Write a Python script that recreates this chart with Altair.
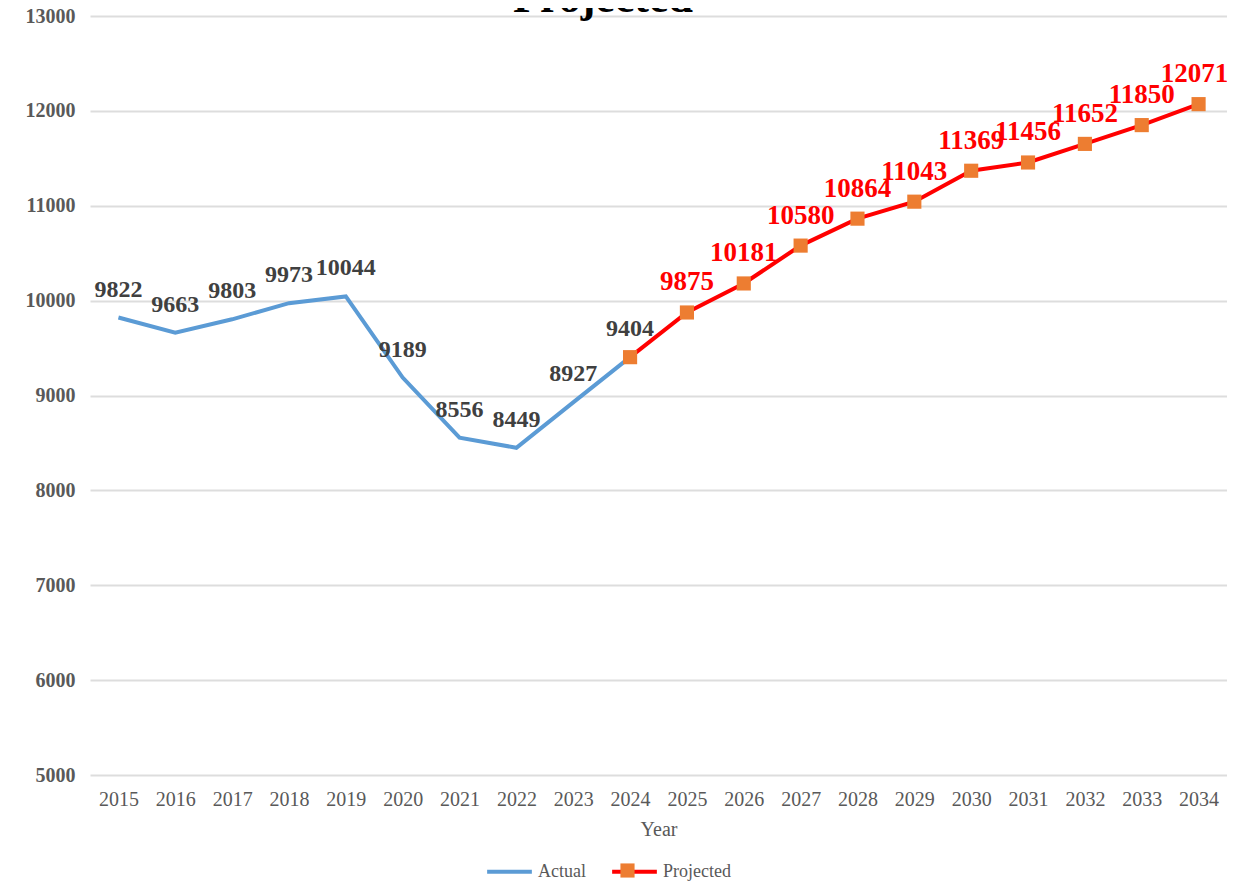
import altair as alt
import pandas as pd

title_text = "Projected"
actual_years = [2015, 2016, 2017, 2018, 2019, 2020, 2021, 2022, 2023, 2024]
actual_values = [9822, 9663, 9803, 9973, 10044, 9189, 8556, 8449, 8927, 9404]
proj_years = [2024, 2025, 2026, 2027, 2028, 2029, 2030, 2031, 2032, 2033, 2034]
proj_values = [9404, 9875, 10181, 10580, 10864, 11043, 11369, 11456, 11652, 11850, 12071]
all_years = [str(y) for y in range(2015, 2035)]
series_names = ["Actual", "Projected"]
series_colors = ["#5B9BD5", "#FF0000"]
marker_color = "#ED7D31"

rows = []
for y, v in zip(actual_years, actual_values):
    rows.append({"Year": str(y), "Value": v, "Series": "Actual", "Label": True})
for y, v in zip(proj_years, proj_values):
    rows.append({"Year": str(y), "Value": v, "Series": "Projected", "Label": y != 2024})
df = pd.DataFrame(rows)

FONT = "Liberation Serif"
GRAY = "#595959"

x_enc = alt.X("Year:O", sort=all_years, scale=alt.Scale(domain=all_years, type="point", padding=0.5),
              axis=alt.Axis(title="Year", labelAngle=0, labelFontSize=20, labelColor=GRAY,
                            labelFont=FONT, titleFont=FONT, titleFontSize=20, titleColor=GRAY,
                            titleFontWeight="normal", labelPadding=14, titlePadding=10,
                            domain=False, ticks=False, grid=False))
y_enc = alt.Y("Value:Q", scale=alt.Scale(domain=[5000, 13000]),
              axis=alt.Axis(title=None, values=list(range(5000, 13001, 1000)), format="d",
                            labelFontSize=20, labelFontWeight="bold", labelColor=GRAY, labelFont=FONT,
                            labelPadding=15, domain=False, ticks=False, grid=True,
                            gridColor="#DDDDDD", gridWidth=2))

base = alt.Chart(df)

lines = base.mark_line(strokeWidth=4).encode(
    x=x_enc, y=y_enc,
    color=alt.Color("Series:N", scale=alt.Scale(domain=series_names, range=series_colors),
                    legend=alt.Legend(title=None, orient="none", legendX=395, legendY=831,
                                      direction="horizontal", symbolType="stroke",
                                      symbolStrokeWidth=4, symbolSize=2000, labelFont=FONT,
                                      labelFontSize=18, labelColor=GRAY, columnPadding=18,
                                      labelOffset=4)),
    detail="Series:N",
)

points = base.transform_filter(alt.datum.Series == "Projected").transform_calculate(
    Marker="'Projected'"
).mark_point(shape="square", filled=True, size=200, opacity=1).encode(
    x=x_enc, y=y_enc,
    fill=alt.Fill("Marker:N", scale=alt.Scale(domain=["Projected"], range=[marker_color]),
                  legend=alt.Legend(title=None, orient="none", legendX=530, legendY=847,
                                    symbolType="square", symbolSize=200, labelExpr="''",
                                    labelFontSize=1, symbolStrokeWidth=0)),
)

labels_actual = base.transform_filter(
    (alt.datum.Series == "Actual")).mark_text(
    font=FONT, fontSize=24, fontWeight="bold", color="#404040", dy=-28
).encode(x=x_enc, y=y_enc, text="Value:Q")

labels_proj = base.transform_filter(
    (alt.datum.Series == "Projected") & (alt.datum.Label == True) & (alt.datum.Year != "2034")).mark_text(
    font=FONT, fontSize=27, fontWeight="bold", color="#FF0000", dy=-30
).encode(x=x_enc, y=y_enc, text="Value:Q")

labels_last = base.transform_filter(
    (alt.datum.Series == "Projected") & (alt.datum.Year == "2034")).mark_text(
    font=FONT, fontSize=27, fontWeight="bold", color="#FF0000", dy=-30, dx=-4
).encode(x=x_enc, y=y_enc, text="Value:Q")

title = alt.Chart(pd.DataFrame({"t": [title_text]})).mark_text(
    font=FONT, fontSize=44, fontWeight="bold", color="#000000", baseline="alphabetic", align="center"
).encode(text="t:N", x=alt.value(513), y=alt.value(-4))

chart = alt.layer(lines, points, labels_actual, labels_proj, labels_last, title).properties(
    width=1137, height=759,
    padding={"left": 82, "top": 8, "right": 0, "bottom": 109},
    autosize=alt.AutoSizeParams(type="none"),
).configure_view(stroke=None).configure_legend(symbolOpacity=1)

chart.save("out.html", embed_options={"renderer": "svg", "actions": False})
